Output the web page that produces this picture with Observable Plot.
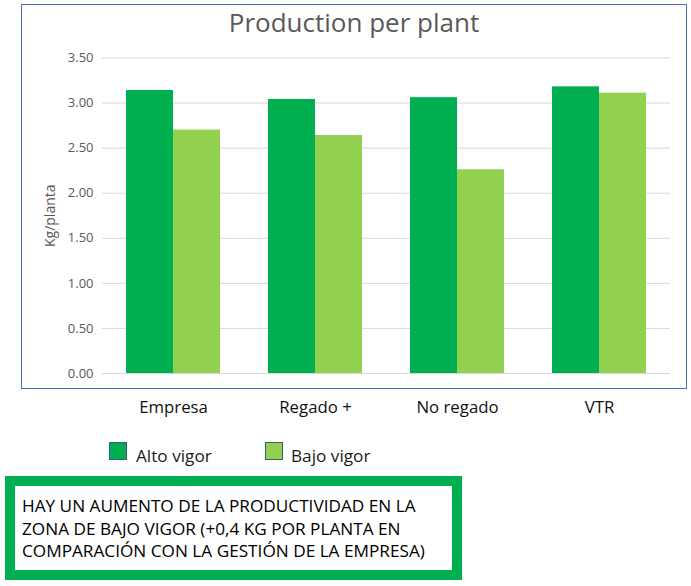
<!DOCTYPE html>
<html>
<head>
<meta charset="utf-8">
<script src="https://cdn.jsdelivr.net/npm/d3@7"></script>
<script src="https://cdn.jsdelivr.net/npm/@observablehq/plot@0.6"></script>
<style>
  body { margin: 0; background: #fff; }
  #wrap { position: relative; width: 691px; height: 586px; overflow: hidden; background: #fff; font-family: "Open Sans", sans-serif; }
  #frame { position: absolute; left: 21px; top: 4px; width: 664px; height: 383px; border: 1px solid #4472C4; box-sizing: content-box; }
  #chart { position: absolute; left: 0; top: 0; }
  #title { position: absolute; left: 21px; width: 666px; top: 4px; text-align: center; font-size: 26px; line-height: 36px; color: #595959; }
  .leg { position: absolute; top: 446px; font-size: 17.2px; line-height: 20px; color: #1a1a1a; white-space: nowrap; }
  .sw { position: absolute; width: 16px; height: 16px; border: 1px solid #3b5d7a; }
  #note { position: absolute; left: 5px; top: 476px; width: 457px; height: 104px; box-sizing: border-box; border: 10px solid #00B050; padding: 9px 0 0 7px; font-size: 17.2px; line-height: 22.5px; color: #000; white-space: nowrap; }
  #chart g[aria-label^="x-axis"] { font-size: 16.8px; color: #111; }
  #chart g[aria-label^="y-axis"] { font-size: 13px; color: #595959; }
  #chart g[aria-label="y-axis label"] { font-size: 14px; }
</style>
</head>
<body>
<div id="wrap">
  <div id="frame"></div>
  <div id="chart"></div>
  <div id="title"></div>
  <div id="legend"></div>
  <div id="note"></div>
</div>
<script>
// ---- data ----
const categories = ["Empresa", "Regado +", "No regado", "VTR"];
const altoVigor = [3.14, 3.04, 3.06, 3.18];
const bajoVigor = [2.70, 2.64, 2.26, 3.11];
const seriesNames = ["Alto vigor", "Bajo vigor"];
const seriesColors = ["#00B050", "#92D050"];
const yTicks = [0, 0.5, 1, 1.5, 2, 2.5, 3, 3.5];
const titleText = "Production per plant";
const yLabel = "Kg/planta";
const noteLines = [
  "HAY UN AUMENTO DE LA PRODUCTIVIDAD EN LA",
  "ZONA DE BAJO VIGOR (+0,4 KG POR PLANTA EN",
  "COMPARACIÓN CON LA GESTIÓN DE LA EMPRESA)"
];

const rows = categories.flatMap((c, i) => [
  {category: c, serie: seriesNames[0], value: altoVigor[i]},
  {category: c, serie: seriesNames[1], value: bajoVigor[i]}
]);

const base = {
  width: 691,
  height: 420,
  marginLeft: 102,
  marginRight: 21,
  marginTop: 57.5,
  marginBottom: 47,
  style: {fontFamily: "Open Sans, sans-serif", fontSize: "13px", background: "transparent", overflow: "visible"},
  x: {domain: categories, paddingInner: 0.338, paddingOuter: 0.162, tickSize: 0, tickPadding: 28, label: null},
  y: {domain: [0, 3.5], ticks: yTicks, tickFormat: d3.format(".2f"), tickSize: 0, tickPadding: 9,
      label: yLabel, labelAnchor: "center", labelOffset: 57, labelArrow: "none"},
  color: {domain: seriesNames, range: seriesColors}
};

const probe = Plot.plot({...base, marks: [Plot.barY(rows, {x: "category", y: "value"})]});
const bw = probe.scale("x").bandwidth;

const chart = Plot.plot({
  ...base,
  marks: [
    Plot.ruleY(yTicks, {stroke: "#d9d9d9", strokeWidth: 1}),
    Plot.barY(rows.filter(d => d.serie === seriesNames[0]), {x: "category", y: "value", fill: "serie", insetRight: bw / 2}),
    Plot.barY(rows.filter(d => d.serie === seriesNames[1]), {x: "category", y: "value", fill: "serie", insetLeft: bw / 2})
  ]
});
document.getElementById("chart").appendChild(chart);

document.getElementById("title").textContent = titleText;

// legend
const legend = document.getElementById("legend");
const legPos = [{sw: 109, tx: 136}, {sw: 265, tx: 291}];
seriesNames.forEach((name, i) => {
  const sw = document.createElement("div");
  sw.className = "sw";
  sw.style.left = legPos[i].sw + "px";
  sw.style.top = "442px";
  sw.style.background = seriesColors[i];
  legend.appendChild(sw);
  const t = document.createElement("div");
  t.className = "leg";
  t.style.left = legPos[i].tx + "px";
  t.textContent = name;
  legend.appendChild(t);
});

document.getElementById("note").innerHTML = noteLines.map(l => `<div>${l}</div>`).join("");
</script>
</body>
</html>
